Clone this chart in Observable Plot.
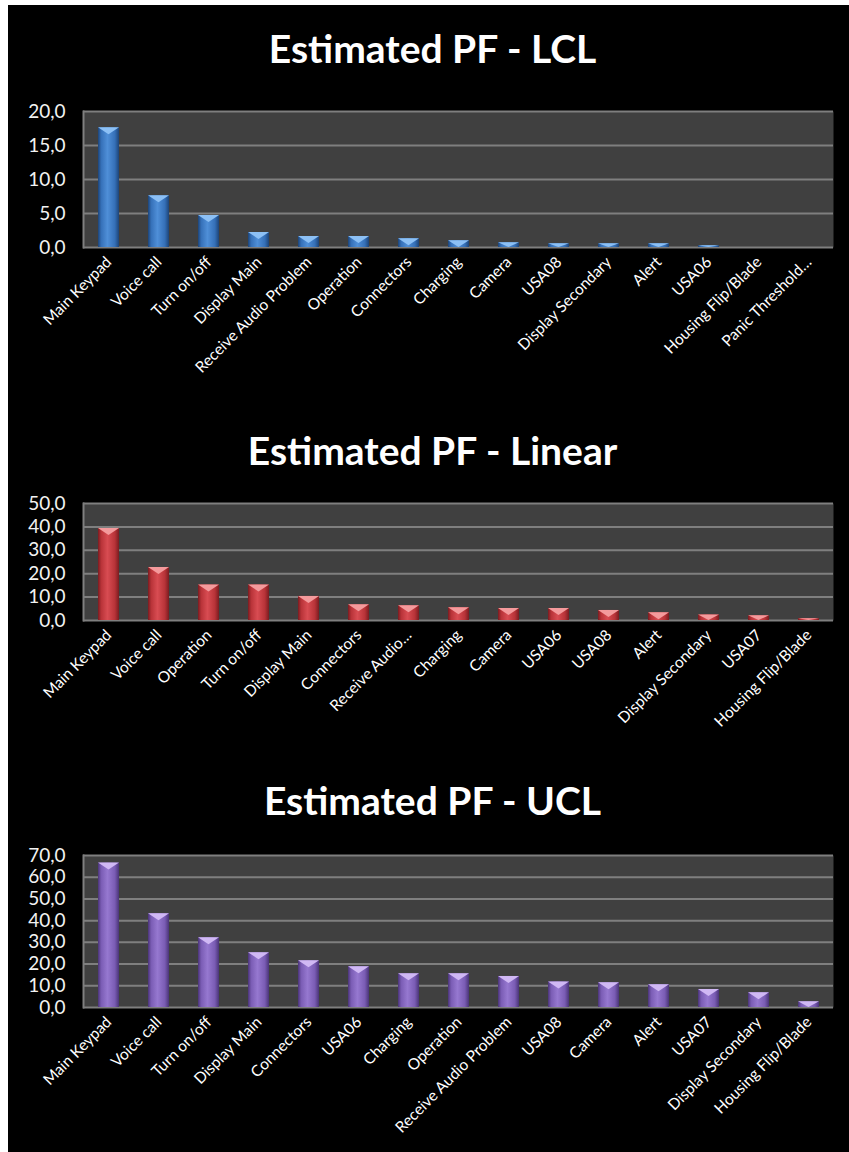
<!DOCTYPE html>
<html><head><meta charset="utf-8">
<script src="https://cdn.jsdelivr.net/npm/d3@7"></script>
<script src="https://cdn.jsdelivr.net/npm/@observablehq/plot@0.6"></script>
<style>
html,body{margin:0;padding:0;}
body{background:#fff;width:849px;height:1152px;overflow:hidden;position:relative;}
#panel{position:absolute;left:8px;top:5px;width:841px;height:1147px;background:#000;}
.title{position:absolute;left:8px;width:849px;text-align:center;color:#fff;font-family:Lato,sans-serif;font-weight:bold;font-size:39px;line-height:40px;}
.chart{position:absolute;left:8px;}
</style></head><body>
<div id="panel"></div>
<script>
// ---- Data ----
const lclCategories = ["Main Keypad","Voice call","Turn on/off","Display Main","Receive Audio Problem","Operation","Connectors","Charging","Camera","USA08","Display Secondary","Alert","USA06","Housing Flip/Blade","Panic Threshold…"];
const lclValues = [17.6,7.6,4.7,2.2,1.6,1.6,1.3,1.0,0.7,0.55,0.55,0.55,0.25,0,0];
const lclTicks = [0,5,10,15,20];

const linCategories = ["Main Keypad","Voice call","Operation","Turn on/off","Display Main","Connectors","Receive Audio…","Charging","Camera","USA06","USA08","Alert","Display Secondary","USA07","Housing Flip/Blade"];
const linValues = [39.3,22.6,15.2,15.2,10.3,6.7,6.3,5.5,5.1,5.1,4.3,3.3,2.4,2.0,0.8];
const linTicks = [0,10,20,30,40,50];

const uclCategories = ["Main Keypad","Voice call","Turn on/off","Display Main","Connectors","USA06","Charging","Operation","Receive Audio Problem","USA08","Camera","Alert","USA07","Display Secondary","Housing Flip/Blade"];
const uclValues = [66.5,43.2,32.1,25.2,21.5,18.8,15.5,15.5,14.3,11.8,11.4,10.5,8.3,6.8,2.6];
const uclTicks = [0,10,20,30,40,50,60,70];

const titles = ["Estimated PF - LCL","Estimated PF - Linear","Estimated PF - UCL"];

const ns = "http://www.w3.org/2000/svg";
const fmt = d => d.toFixed(1).replace(".", ",");

function makeChart(o) {
  const data = o.categories.map((c, i) => ({c, v: o.values[i]}));
  const gid = "grad-" + o.id;
  const defs = () => {
    const d = document.createElementNS(ns, "defs");
    d.innerHTML = `<linearGradient id="${gid}" x1="0" x2="1" y1="0" y2="0">
      <stop offset="0" stop-color="${o.dark}"/>
      <stop offset="0.15" stop-color="${o.mid}"/>
      <stop offset="0.45" stop-color="${o.light}"/>
      <stop offset="0.8" stop-color="${o.mid}"/>
      <stop offset="1" stop-color="${o.dark}"/>
    </linearGradient>`;
    return d;
  };
  const bevel = (index, scales) => {
    const g = document.createElementNS(ns, "g");
    const bw = scales.x.bandwidth();
    const y0 = scales.y(0);
    for (const d of data) {
      const x0 = scales.x(d.c), yt = scales.y(d.v);
      const h = Math.min(7, y0 - yt);
      if (h <= 0.4) continue;
      const p = document.createElementNS(ns, "path");
      p.setAttribute("d", `M${x0},${yt}L${x0 + bw},${yt}L${x0 + bw / 2},${yt + h}Z`);
      p.setAttribute("fill", o.bevelColor);
      g.appendChild(p);
    }
    return g;
  };
  return Plot.plot({
    width: 841,
    height: o.height,
    marginLeft: 75,
    marginRight: 16,
    marginTop: o.marginTop,
    marginBottom: o.marginBottom,
    style: {background: "transparent", color: "#fff", fontFamily: "Lato, sans-serif", fontSize: "15.5px"},
    x: {domain: o.categories, paddingInner: 0.58, paddingOuter: 0.29, label: null},
    y: {domain: [0, o.ticks[o.ticks.length - 1]], label: null},
    marks: [
      Plot.frame({fill: "#404040"}),
      defs,
      Plot.ruleY(o.ticks, {stroke: "#7f7f7f", strokeWidth: 2}),
      Plot.barY(data, {x: "c", y: "v", fill: `url(#${gid})`}),
      bevel,
      Plot.frame({anchor: "left", stroke: "#7f7f7f", strokeWidth: 2}),
      Plot.axisX({tickRotate: -45, tickSize: 0, tickPadding: 12, fontSize: 15.5, fill: "#fff"}),
      Plot.axisY({ticks: o.ticks, tickFormat: fmt, tickSize: 0, tickPadding: 18, fontSize: 19, fill: "#f2f2f2"})
    ]
  });
}

const configs = [
  {id: "lcl", categories: lclCategories, values: lclValues, ticks: lclTicks, posTop: 95, marginTop: 16, height: 292, marginBottom: 140,
   dark: "#1d4478", mid: "#3570b8", light: "#4f8fd8", bevelColor: "#8cc0f5"},
  {id: "lin", categories: linCategories, values: linValues, ticks: linTicks, posTop: 490, marginTop: 13, height: 260, marginBottom: 130,
   dark: "#7a1c20", mid: "#b83338", light: "#d84c52", bevelColor: "#f49a9c"},
  {id: "ucl", categories: uclCategories, values: uclValues, ticks: uclTicks, posTop: 840, marginTop: 15, height: 307, marginBottom: 140,
   dark: "#4a3478", mid: "#7a5cb4", light: "#9678d0", bevelColor: "#d0b8f4"}
];
const titleCenters = [48, 450, 800];

configs.forEach((c, i) => {
  const t = document.createElement("div");
  t.className = "title";
  t.style.top = (titleCenters[i] - 20) + "px";
  t.textContent = titles[i];
  document.body.appendChild(t);
  const wrap = document.createElement("div");
  wrap.className = "chart";
  wrap.style.top = c.posTop + "px";
  wrap.appendChild(makeChart(c));
  document.body.appendChild(wrap);
});
</script>
</body></html>
